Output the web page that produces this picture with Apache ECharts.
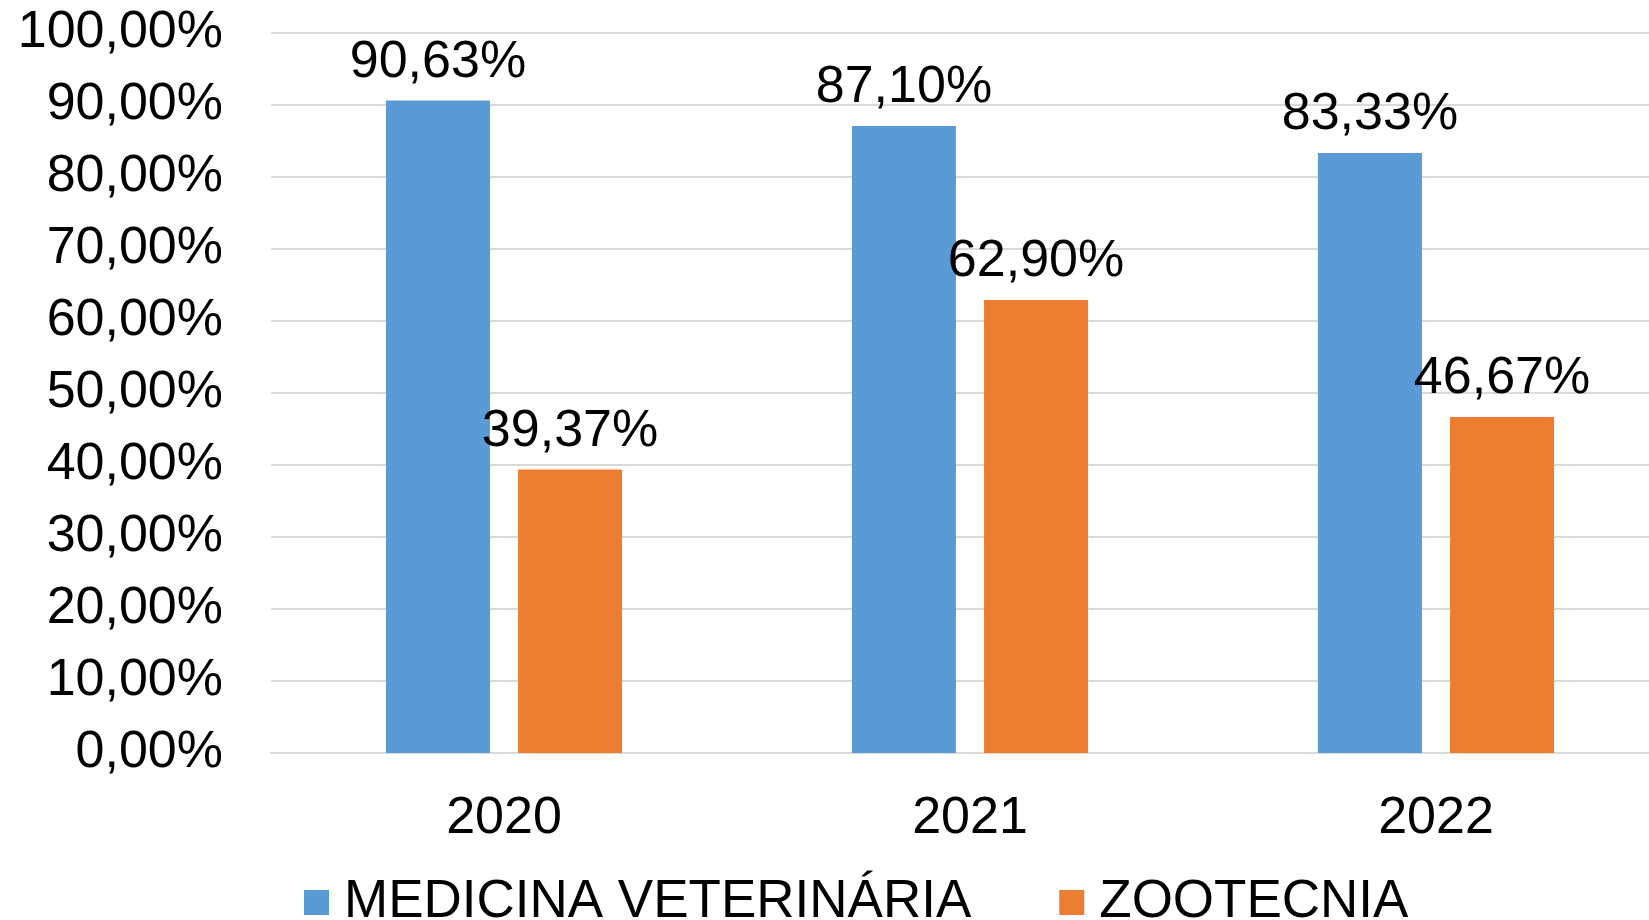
<!DOCTYPE html>
<html>
<head>
<meta charset="utf-8">
<script src="https://cdn.jsdelivr.net/npm/echarts@6/dist/echarts.min.js"></script>
<style>
  html, body { margin: 0; padding: 0; background: #fff; }
  #container { width: 1649px; height: 920px; }
</style>
</head>
<body>
<div id="container"></div>
<script>
var years = ['2020', '2021', '2022'];
var medVet = [90.63, 87.10, 83.33];
var zootec = [39.37, 62.90, 46.67];
var seriesNames = ['MEDICINA VETERINÁRIA', 'ZOOTECNIA'];

function pct(v) {
  return v.toFixed(2).replace('.', ',') + '%';
}

var dom = document.getElementById('container');
var myChart = echarts.init(dom, null, { renderer: 'canvas' });
var font = 'Liberation Sans, Arial, sans-serif';
var fs = 52;

var labelStyle = {
  show: true,
  position: 'top',
  distance: 12,
  fontSize: fs,
  fontFamily: font,
  color: '#000',
  formatter: function (p) { return pct(p.value); }
};

var option = {
  animation: false,
  grid: { left: 271, top: 33, width: 1398, height: 720, containLabel: false, outerBoundsMode: 'none' },
  legend: {
    left: 299,
    top: 871,
    itemWidth: 25,
    itemHeight: 25,
    itemGap: 88,
    icon: 'rect',
    textStyle: { fontSize: 53, fontFamily: font, color: '#000', padding: [0, 0, 0, 10] },
    data: seriesNames
  },
  xAxis: {
    type: 'category',
    data: years,
    axisTick: { show: false },
    axisLine: { lineStyle: { color: '#d9d9d9', width: 2 } },
    axisLabel: { fontSize: fs, fontFamily: font, color: '#000', margin: 40 }
  },
  yAxis: {
    type: 'value',
    min: 0,
    max: 100,
    interval: 10,
    axisLabel: {
      fontSize: fs, fontFamily: font, color: '#000', margin: 48,
      formatter: function (v) { return pct(v); }
    },
    splitLine: { lineStyle: { color: '#d9d9d9', width: 2 } }
  },
  series: [
    {
      name: seriesNames[0],
      type: 'bar',
      data: medVet,
      barWidth: 104,
      barGap: '27%',
      itemStyle: { color: '#5B9BD5' },
      label: labelStyle
    },
    {
      name: seriesNames[1],
      type: 'bar',
      data: zootec,
      barWidth: 104,
      barGap: '27%',
      itemStyle: { color: '#ED7D31' },
      label: labelStyle
    }
  ]
};

myChart.setOption(option);
window.addEventListener('resize', myChart.resize);
</script>
</body>
</html>
